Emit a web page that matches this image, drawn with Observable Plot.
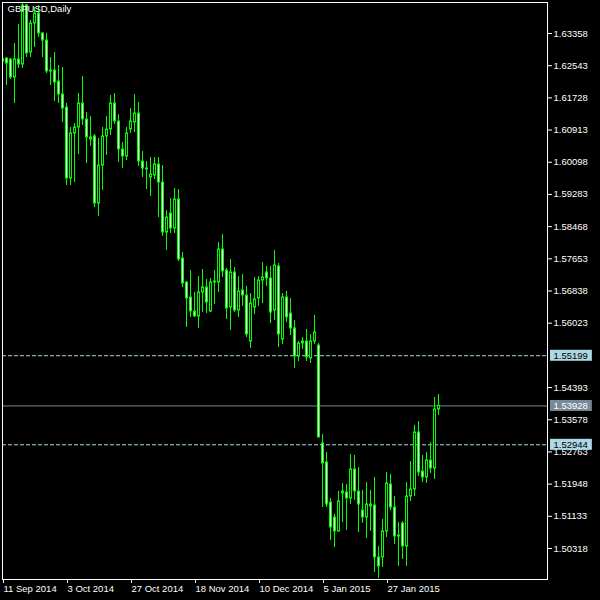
<!DOCTYPE html>
<html><head><meta charset="utf-8">
<script src="https://cdn.jsdelivr.net/npm/d3@7"></script>
<script src="https://cdn.jsdelivr.net/npm/@observablehq/plot@0.6"></script>
<style>html,body{margin:0;padding:0;background:#000;}#chart svg{display:block;}</style>
</head><body><div id="chart"></div>
<script>
const symbol = "GBPUSD,Daily";
const opens = [1.62649,1.62725,1.62700,1.62244,1.62700,1.62573,1.64067,1.62877,1.63611,1.63864,
1.63358,1.63181,1.62396,1.62421,1.62143,1.61814,1.61484,1.59687,1.60826,1.60978,
1.61586,1.61181,1.60725,1.60750,1.59054,1.60016,1.60750,1.60927,1.61586,1.61130,
1.60421,1.60244,1.60927,1.61105,1.61332,1.60117,1.59940,1.59712,1.59763,1.60041,
1.59585,1.58319,1.58800,1.58421,1.59155,1.57661,1.57053,1.56674,1.56319,1.56193,
1.56800,1.56927,1.56319,1.57053,1.57053,1.57889,1.57357,1.56420,1.57307,1.56344,
1.56851,1.56724,1.55560,1.56420,1.56648,1.57104,1.57307,1.57155,1.56344,1.57459,
1.55610,1.56674,1.56268,1.55889,1.55180,1.55509,1.55560,1.55129,1.55560,1.55458,
1.52977,1.52496,1.51483,1.51103,1.50749,1.51711,1.51736,1.51584,1.52319,1.51762,
1.51280,1.51103,1.51432,1.51407,1.50090,1.50090,1.50749,1.51939,1.51356,1.50622,
1.50951,1.50369,1.51635,1.51812,1.53255,1.52268,1.52116,1.52546,1.52344,1.53838];
const highs = [1.62725,1.62750,1.62725,1.63105,1.63586,1.64118,1.64092,1.63687,1.64016,1.64067,
1.63383,1.63358,1.62750,1.62877,1.62548,1.62497,1.61586,1.60978,1.61079,1.61839,
1.62269,1.61358,1.61257,1.60801,1.60699,1.60978,1.61257,1.61788,1.61839,1.61307,
1.60598,1.60978,1.61459,1.61814,1.61611,1.60370,1.60117,1.60218,1.60218,1.60218,
1.60016,1.58876,1.59180,1.59433,1.59408,1.57813,1.57079,1.57357,1.56800,1.57205,
1.57383,1.57129,1.57155,1.57357,1.58066,1.58269,1.57408,1.57636,1.57433,1.57205,
1.57256,1.56952,1.56775,1.57180,1.57205,1.57560,1.57459,1.57459,1.57864,1.57534,
1.56775,1.56826,1.56648,1.56091,1.55560,1.55661,1.55863,1.55737,1.56218,1.55509,
1.53205,1.52749,1.51584,1.51179,1.51762,1.51964,1.51939,1.52698,1.52673,1.52369,
1.51787,1.51989,1.51787,1.52116,1.50369,1.51053,1.52243,1.52192,1.51635,1.50977,
1.51002,1.51989,1.52521,1.53433,1.53534,1.52673,1.52749,1.53002,1.54142,1.54218];
const lows = [1.61991,1.62041,1.62193,1.61586,1.62472,1.62472,1.62750,1.62750,1.63004,1.63257,
1.62750,1.62345,1.62041,1.61636,1.61586,1.61105,1.59509,1.59509,1.59585,1.60294,
1.61029,1.60066,1.60497,1.58952,1.58725,1.59383,1.60269,1.60775,1.61054,1.60092,
1.59940,1.60142,1.60826,1.60851,1.59991,1.59712,1.59408,1.59231,1.59661,1.58699,
1.58218,1.57864,1.58294,1.58294,1.57585,1.56927,1.55914,1.56167,1.56167,1.55889,
1.56294,1.56268,1.56294,1.56496,1.56800,1.57180,1.56117,1.55838,1.56294,1.56167,
1.56446,1.55661,1.55382,1.56243,1.56446,1.56522,1.56952,1.56015,1.56091,1.55408,
1.55484,1.56041,1.55711,1.54876,1.55053,1.55357,1.55053,1.55002,1.55484,1.53120,
1.51356,1.51356,1.50521,1.50344,1.50740,1.50977,1.50774,1.51432,1.51534,1.50723,
1.50951,1.50571,1.50749,1.49711,1.49559,1.49837,1.50597,1.51280,1.50420,1.49863,
1.50040,1.49863,1.51508,1.51635,1.52141,1.51989,1.51964,1.52217,1.52065,1.53686];
const closes = [1.62700,1.62598,1.62244,1.62700,1.62573,1.64067,1.62852,1.63611,1.63864,1.63358,
1.63181,1.62396,1.62421,1.62117,1.61814,1.61459,1.59687,1.60826,1.60978,1.61586,
1.61181,1.60725,1.60674,1.59054,1.60016,1.60750,1.60927,1.61586,1.61130,1.60421,
1.60244,1.60826,1.61130,1.61332,1.60117,1.59940,1.59915,1.59788,1.60041,1.59585,
1.58319,1.58699,1.58421,1.59155,1.57636,1.57028,1.56648,1.56319,1.56193,1.56800,
1.56927,1.56547,1.57053,1.57079,1.57889,1.57332,1.56395,1.57307,1.56344,1.56826,
1.56724,1.55737,1.56522,1.56623,1.57104,1.57180,1.57155,1.56294,1.57484,1.55737,
1.56674,1.56167,1.55889,1.55180,1.55509,1.55560,1.55154,1.55560,1.55787,1.53129,
1.52470,1.51432,1.50850,1.50749,1.51508,1.51762,1.51584,1.52319,1.51762,1.51432,
1.51103,1.51432,1.51382,1.50090,1.49863,1.50749,1.51964,1.51356,1.50622,1.50647,
1.50369,1.51635,1.51812,1.53255,1.52243,1.52116,1.52546,1.52344,1.53838,1.53928];
const dateTickIndex = [0, 16, 32, 48, 64, 80, 96];
const dateTickLabels = ["11 Sep 2014", "3 Oct 2014", "27 Oct 2014", "18 Nov 2014", "10 Dec 2014", "5 Jan 2015", "27 Jan 2015"];
const priceTicks = [1.63358,1.62543,1.61728,1.60913,1.60098,1.59283,1.58468,1.57653,1.56838,1.56023,1.54393,1.53578,1.52763,1.51948,1.51133,1.50318];
const dashedLevels = [1.55199, 1.52944];
const bidLevel = 1.53928;

const candles = opens.map((o, i) => ({i, open: o, high: highs[i], low: lows[i], close: closes[i]}));
const labelMap = new Map(dateTickIndex.map((d, k) => [d, dateTickLabels[k]]));

const chart = Plot.plot({
  width: 600, height: 600,
  marginLeft: 2, marginRight: 53, marginTop: 2, marginBottom: 21,
  style: "background:#000;color:#fff;font:9.5px 'Liberation Sans',Arial,sans-serif;",
  x: {type: "linear", domain: [0, 136.25]},
  y: {domain: [1.49533, 1.64143]},
  marks: [
    Plot.ruleY(dashedLevels, {stroke: "#add8e6", strokeDasharray: "4,2"}),
    Plot.ruleY([bidLevel], {stroke: "#778899"}),
    Plot.ruleX(candles, {x: "i", y1: "low", y2: "high", stroke: "#00ff00", clip: true}),
    Plot.rect(candles, {x1: d => d.i - 0.25, x2: d => d.i + 0.25, y1: "open", y2: "close", dx: 0.5,
      fill: d => d.close > d.open ? "#000" : "#fff", stroke: "#00ff00", clip: true}),
    Plot.frame({stroke: "#fff"}),
    Plot.axisY(priceTicks, {anchor: "right", tickSize: 4, tickPadding: 2, label: null,
      tickFormat: d => d.toFixed(5), fill: "#fff", stroke: "#fff"}),
    Plot.axisX(dateTickIndex, {anchor: "bottom", tickSize: 4, tickPadding: 2, label: null,
      textAnchor: "start", dx: 1, tickFormat: d => labelMap.get(d), fill: "#fff", stroke: "#fff"}),
    Plot.text([symbol], {frameAnchor: "top-left", dx: 5, dy: 3, lineAnchor: "top", textAnchor: "start",
      fill: "#fff", fontSize: 9.5}),
    Plot.text(dashedLevels, {y: d => d, frameAnchor: "right", dx: 6, textAnchor: "start",
      text: d => d.toFixed(5), fill: "#000"}),
    Plot.text([bidLevel], {y: d => d, frameAnchor: "right", dx: 6, textAnchor: "start",
      text: d => d.toFixed(5), fill: "#fff"})
  ]
});
document.getElementById("chart").append(chart);

const boxColor = new Map([
  ...dashedLevels.map(v => [v.toFixed(5), "#add8e6"]),
  [bidLevel.toFixed(5), "#778899"]
]);
const seen = new Set();
Array.from(chart.querySelectorAll("text")).reverse().forEach(t => {
  const s = t.textContent;
  if (!boxColor.has(s) || seen.has(s)) return;
  seen.add(s);
  const b = t.getBBox();
  const r = document.createElementNS("http://www.w3.org/2000/svg", "rect");
  r.setAttribute("x", b.x - 3.5);
  r.setAttribute("y", b.y + b.height / 2 - 5.5);
  r.setAttribute("width", b.width + 7.5);
  r.setAttribute("height", 11);
  r.setAttribute("fill", boxColor.get(s));
  const tr = t.getAttribute("transform");
  if (tr) r.setAttribute("transform", tr);
  t.parentNode.insertBefore(r, t);
});
</script>
</body></html>
